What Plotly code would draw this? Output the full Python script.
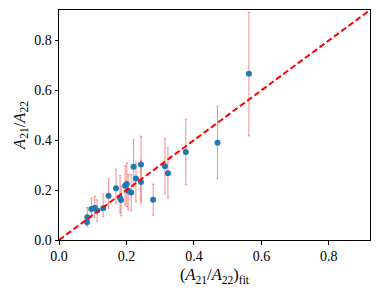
import plotly.graph_objects as go

x_fit = [0.083, 0.084, 0.096, 0.106, 0.113, 0.131, 0.147, 0.169, 0.181, 0.184,
         0.196, 0.201, 0.205, 0.214, 0.221, 0.228, 0.243, 0.243, 0.279, 0.314,
         0.323, 0.376, 0.470, 0.563]
y_ratio = [0.071, 0.091, 0.124, 0.129, 0.118, 0.127, 0.177, 0.207, 0.168, 0.160,
           0.217, 0.224, 0.197, 0.190, 0.294, 0.247, 0.303, 0.233, 0.161, 0.296,
           0.268, 0.353, 0.390, 0.666]
y_upper = [0.095, 0.130, 0.168, 0.175, 0.161, 0.184, 0.245, 0.284, 0.258, 0.215,
           0.298, 0.309, 0.262, 0.262, 0.402, 0.309, 0.416, 0.320, 0.224, 0.408,
           0.370, 0.484, 0.536, 0.912]
y_lower = [0.055, 0.065, 0.089, 0.090, 0.074, 0.094, 0.128, 0.148, 0.109, 0.097,
           0.140, 0.134, 0.121, 0.118, 0.214, 0.154, 0.148, 0.160, 0.100, 0.186,
           0.168, 0.221, 0.245, 0.417]
diag = [0.0, 1.0]
ticks = [0.0, 0.2, 0.4, 0.6, 0.8]
lim = 0.922

err_plus = [u - y for u, y in zip(y_upper, y_ratio)]
err_minus = [y - l for l, y in zip(y_lower, y_ratio)]

font = "Liberation Serif"

fig = go.Figure()
fig.add_trace(go.Scatter(
    x=x_fit, y=y_ratio, mode="markers",
    marker=dict(color="#1f77b4", size=6, line=dict(width=0)),
    error_y=dict(type="data", symmetric=False, array=err_plus, arrayminus=err_minus,
                 color="rgba(235,50,50,0.55)", thickness=1, width=1),
    showlegend=False,
))
fig.add_trace(go.Scatter(
    x=diag, y=diag, mode="lines",
    line=dict(color="#ff0000", width=2, dash="6px,3px"),
    showlegend=False,
))

axis_common = dict(
    range=[0, lim], tickvals=ticks, tickformat=".1f",
    showgrid=False, zeroline=False,
    showline=True, linecolor="black", linewidth=1, mirror=True,
    ticks="outside", ticklen=3.5, tickwidth=0.8, tickcolor="black",
    tickfont=dict(family=font, size=14, color="black"),
)

fig.update_layout(
    width=380, height=295,
    margin=dict(l=59, r=10, t=10, b=55),
    paper_bgcolor="white", plot_bgcolor="white",
    font=dict(family=font, color="black", size=14),
    xaxis=dict(axis_common,
               title=dict(text="(<i>A</i><sub>21</sub>/<i>A</i><sub>22</sub>)<sub>fit</sub>",
                          font=dict(family=font, size=16.5, color="black"), standoff=5)),
    yaxis=dict(axis_common,
               title=dict(text="<i>A</i><sub>21</sub>/<i>A</i><sub>22</sub>",
                          font=dict(family=font, size=16.5, color="black"), standoff=4)),
)

fig.write_html("out.html", config={"displayModeBar": False},
               post_script="document.body.style.margin='0';document.body.style.padding='0';")
